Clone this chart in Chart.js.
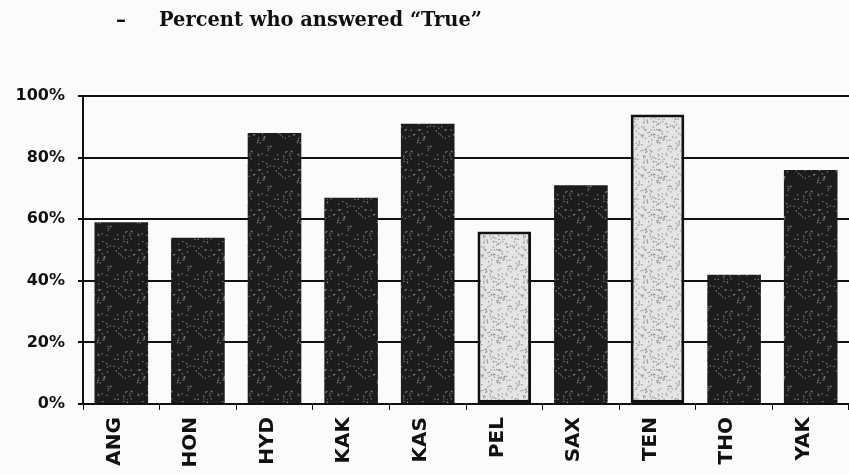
<!DOCTYPE html>
<html>
<head>
<meta charset="utf-8">
<script src="https://cdn.jsdelivr.net/npm/chart.js@4.4.0/dist/chart.umd.min.js"></script>
<style>
  html, body { margin: 0; padding: 0; background: #fbfbfb; }
  #wrap { width: 849px; height: 475px; position: relative; }
</style>
</head>
<body>
<div id="wrap"><canvas id="chart" width="849" height="475"></canvas></div>
<script>
const categories = ["ANG", "HON", "HYD", "KAK", "KAS", "PEL", "SAX", "TEN", "THO", "YAK"];
const percentTrue = [59, 54, 88, 67, 91, 56, 71, 94, 42, 76];
const lightBars = ["PEL", "TEN"];
const yTicks = [0, 20, 40, 60, 80, 100];

// speckled fill, like the photocopied bars
const makePattern = (base, speck, density) => {
    const c = document.createElement("canvas");
    c.width = 40; c.height = 40;
    const g = c.getContext("2d");
    g.fillStyle = base;
    g.fillRect(0, 0, 40, 40);
    g.fillStyle = speck;
    let s = 7;
    for (let i = 0; i < density; i++) {
        s = (s * 9301 + 49297) % 233280;
        const x = (s / 233280) * 40;
        s = (s * 9301 + 49297) % 233280;
        const y = (s / 233280) * 40;
        g.fillRect(x, y, 1.2, 1.2);
    }
    return g.createPattern(c, "repeat");
};

const ctx0 = document.getElementById("chart").getContext("2d");
const darkFill = makePattern("#1c1c1c", "#8a8a8a", 60);
const lightFill = makePattern("#e4e4e4", "#8c8c8c", 140);

const legendText = {
    id: "legendText",
    afterDraw(chart) {
        const c = chart.ctx;
        const label = "Percent who answered \u201CTrue\u201D";
        c.save();
        c.fillStyle = "#111";
        c.textBaseline = "middle";
        c.font = "bold 20px 'DejaVu Serif', serif";
        c.fillText("\u2013", 116, 21);
        // fit to the width of the original legend text
        const w = c.measureText(label).width;
        c.translate(159, 21);
        c.scale(323 / w, 1);
        c.fillText(label, 0, 0);
        c.restore();
    }
};

new Chart(ctx0, {
    type: "bar",
    data: {
        labels: categories,
        datasets: [{
            data: percentTrue,
            backgroundColor: categories.map(c => lightBars.includes(c) ? lightFill : darkFill),
            borderColor: categories.map(c => lightBars.includes(c) ? "#111" : "rgba(0,0,0,0)"),
            borderWidth: categories.map(c => lightBars.includes(c) ? 3 : 0),
            borderSkipped: false,
            categoryPercentage: 0.7,
            barPercentage: 1.0,
        }],
    },
    options: {
        responsive: false,
        animation: false,
        layout: { padding: { top: 96, right: 0, left: 0, bottom: 0 } },
        plugins: {
            legend: { display: false },
            tooltip: { enabled: false },
        },
        scales: {
            x: {
                afterFit: (s) => { s.height = 71; },
                grid: { display: true, drawOnChartArea: false, offset: true, tickLength: 6, color: "#111", lineWidth: 1 },
                border: { display: true, color: "#111", width: 2 },
                ticks: {
                    color: "#111",
                    maxRotation: 90, minRotation: 90,
                    labelOffset: -7,
                    font: { family: "'DejaVu Sans', sans-serif", size: 20, weight: "bold" },
                    padding: 7,
                },
            },
            y: {
                min: 0, max: 100,
                afterFit: (s) => { s.width = 83; },
                afterBuildTicks: (s) => { s.ticks = yTicks.map(v => ({ value: v })); },
                grid: { color: "#111", lineWidth: 2, tickLength: 5 },
                border: { display: true, color: "#111", width: 2 },
                ticks: {
                    color: "#111",
                    padding: 13,
                    callback: (v) => v + "%",
                    font: { family: "'DejaVu Sans', sans-serif", size: 16, weight: "bold" },
                },
            },
        },
    },
    plugins: [legendText],
});
</script>
</body>
</html>
